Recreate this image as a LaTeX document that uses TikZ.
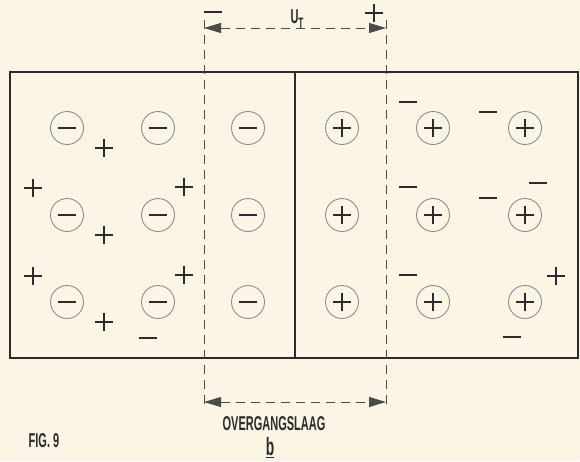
\documentclass[tikz,border=0pt]{standalone}
\usepackage{fontspec}
\usepackage{tikz}
\usetikzlibrary{arrows.meta}
\newfontfamily\figfont[FakeStretch=0.55]{Liberation Sans}
\definecolor{PaperCream}{HTML}{FCF5E6}
\definecolor{InkDark}{HTML}{2B2B2B}
\definecolor{InkGray}{HTML}{8C8C8C}
\tikzset{
  ion/.style={circle,draw=InkGray,line width=0.9pt,minimum size=33pt,inner sep=0pt},
  sign/.style={InkDark,line width=1.5pt},
  guide/.style={InkDark!85,line width=1pt,dash pattern=on 9pt off 6pt},
  span/.style={guide,{Triangle[length=17pt,width=10pt]}-{Triangle[length=17pt,width=10pt]}},
  label/.style={font=\figfont\bfseries\fontsize{20}{22}\selectfont,text=InkDark,inner sep=0pt}
}
% ions fixed in the lattice
\newcommand{\negion}[3]{%
  \node[ion] (#1) at (#2,#3) {};
  \draw[sign] ([xshift=-9pt]#1.center) -- ([xshift=9pt]#1.center);%
}
\newcommand{\posion}[3]{%
  \node[ion] (#1) at (#2,#3) {};
  \draw[sign] ([xshift=-9pt]#1.center) -- ([xshift=9pt]#1.center);
  \draw[sign] ([yshift=-9pt]#1.center) -- ([yshift=9pt]#1.center);%
}
% free carriers
\newcommand{\freeplus}[3]{%
  \coordinate (#1) at (#2,#3);
  \draw[sign] ([xshift=-9pt]#1) -- ([xshift=9pt]#1);
  \draw[sign] ([yshift=-9pt]#1) -- ([yshift=9pt]#1);%
}
\newcommand{\freeminus}[3]{%
  \coordinate (#1) at (#2,#3);
  \draw[sign] ([xshift=-9pt]#1) -- ([xshift=9pt]#1);%
}
\begin{document}
\begin{tikzpicture}[x=1pt,y=-1pt]
  \fill[PaperCream] (0,0) rectangle (580,461);
  \useasboundingbox (0,0) rectangle (580,461);
  % crystal halves
  \draw[InkDark,line width=1.5pt] (10,72) rectangle (578,358);
  \draw[InkDark,line width=1.5pt] (295,72) -- (295,358);
  % p side
  \negion{p11}{67}{128} \negion{p12}{158}{128} \negion{p13}{248}{128}
  \negion{p21}{67}{215} \negion{p22}{158}{215} \negion{p23}{248}{215}
  \negion{p31}{67}{302} \negion{p32}{158}{302} \negion{p33}{248}{302}
  \freeplus{h1}{104}{148} \freeplus{h2}{33}{188} \freeplus{h3}{184}{187}
  \freeplus{h4}{104}{235} \freeplus{h5}{33}{276} \freeplus{h6}{184}{275}
  \freeplus{h7}{104}{322}
  \freeminus{e0}{148}{338}
  % n side
  \posion{n11}{342}{128} \posion{n12}{433}{128} \posion{n13}{525}{128}
  \posion{n21}{342}{215} \posion{n22}{433}{215} \posion{n23}{525}{215}
  \posion{n31}{342}{302} \posion{n32}{433}{302} \posion{n33}{525}{302}
  \freeminus{e1}{408}{102} \freeminus{e2}{488}{112} \freeminus{e3}{408}{187}
  \freeminus{e4}{488}{198} \freeminus{e5}{538}{183} \freeminus{e6}{408}{275}
  \freeminus{e7}{512}{337}
  \freeplus{h0}{556}{276}
  % transition layer
  \coordinate (lt) at (204,20);
  \coordinate (lb) at (204,410);
  \coordinate (rt) at (386,20);
  \coordinate (rb) at (386,410);
  \coordinate (ua) at (204,28);
  \coordinate (ub) at (386,28);
  \coordinate (wa) at (204,402);
  \coordinate (wb) at (386,402);
  \draw[guide] (lt) -- (lb);
  \draw[guide] (rt) -- (rb);
  \draw[span] (ua) -- (ub);
  \draw[span] (wa) -- (wb);
  \freeminus{um}{213}{12}
  \freeplus{up}{374}{13}
  \node[label] (ut) at (297,19) {U\raisebox{-5pt}{\fontsize{15}{16}\selectfont T}};
  \node[label] (layer) at (274,424) {OVERGANGSLAAG};
  \node[label,font=\figfont\bfseries\fontsize{25}{27}\selectfont] (part) at (270,448) {\underline{b}};
  \node[label] (fig) at (44,441) {FIG. 9};
\end{tikzpicture}
\end{document}
